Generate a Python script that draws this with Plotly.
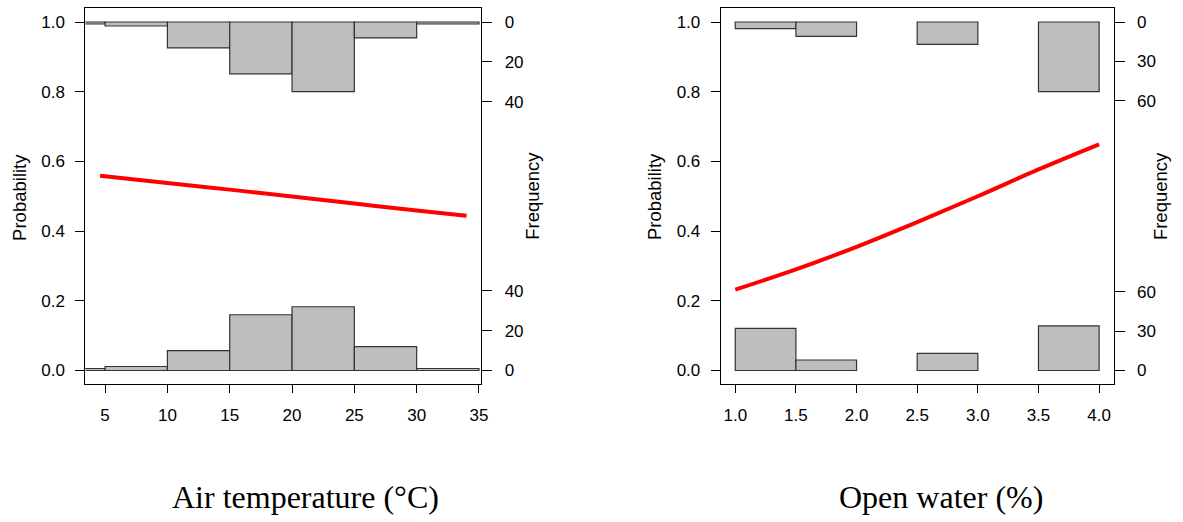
import plotly.graph_objects as go

# ---------------- data ----------------
# Panel 1: Air temperature
temp_bin_edges = [0, 5, 10, 15, 20, 25, 30, 35]
temp_top_counts = [1, 2, 13, 26, 35, 8, 1]        # presences (drawn from 1.0 downward)
temp_bottom_counts = [1, 2, 10, 28, 32, 12, 1]    # absences (drawn from 0.0 upward)
temp_curve_x = [4.6, 10, 15, 20, 25, 30, 34.0]
temp_curve_p = [0.559, 0.538, 0.519, 0.499, 0.479, 0.459, 0.444]
temp_xticks = [5, 10, 15, 20, 25, 30, 35]
temp_freq_ticks = [0, 20, 40]

# Panel 2: Open water
water_bin_edges = [1.0, 1.5, 2.0, 2.5, 3.0, 3.5, 4.0]
water_top_counts = [5, 11, 0, 17, 0, 53]
water_bottom_counts = [32, 8, 0, 13, 0, 34]
water_curve_x = [1.0, 1.5, 2.0, 2.5, 3.0, 3.5, 4.0]
water_curve_p = [0.232, 0.290, 0.355, 0.426, 0.500, 0.577, 0.649]
water_xticks = [1.0, 1.5, 2.0, 2.5, 3.0, 3.5, 4.0]
water_xticklabels = ["1.0", "1.5", "2.0", "2.5", "3.0", "3.5", "4.0"]
water_freq_ticks = [0, 30, 60]

prob_ticks = [0.0, 0.2, 0.4, 0.6, 0.8, 1.0]
prob_ticklabels = ["0.0", "0.2", "0.4", "0.6", "0.8", "1.0"]

# ---------------- layout constants ----------------
W, H = 1183, 522
BAR_FILL = "#BEBEBE"
BAR_LINE = "#333333"
TICK_FONT = dict(family="Liberation Sans, Arial, sans-serif", size=17, color="#000000")
LABEL_FONT = dict(family="Liberation Sans, Arial, sans-serif", size=18.5, color="#000000")
TITLE_FONT = dict(family="Liberation Serif, Times New Roman, serif", size=32, color="#000000")

# pixel positions of the plot box and of the probability 0 / 1 lines
BOX_TOP, BOX_BOTTOM = 7.5, 384.3
P1_Y, P0_Y = 22.0, 370.5
ppu = (P0_Y - P1_Y)  # pixels per probability unit
Y_RANGE = [-(BOX_BOTTOM - P0_Y) / ppu, 1 + (P1_Y - BOX_TOP) / ppu]


def px(x):
    return x / W


def py(y):
    return 1 - y / H


YDOM = [py(BOX_BOTTOM), py(BOX_TOP)]

fig = go.Figure()


def add_panel(edges, top_counts, bottom_counts, cx, cp, xa, ya, fa):
    scale = 0.2 / max(max(top_counts), max(bottom_counts))
    top_y, bot_y, tc, bc = [], [], [], []
    for i in range(len(edges) - 1):
        c = (edges[i] + edges[i + 1]) / 2
        w = edges[i + 1] - edges[i]
        if top_counts[i] > 0:
            top_y.append(-top_counts[i] * scale)
            tc.append((c, w))
        if bottom_counts[i] > 0:
            bot_y.append(bottom_counts[i] * scale)
            bc.append((c, w))
    fig.add_trace(go.Bar(
        x=[c for c, _ in tc], width=[w for _, w in tc], y=top_y, base=1.0,
        marker=dict(color=BAR_FILL, line=dict(color=BAR_LINE, width=1.2)),
        xaxis=xa, yaxis=fa, showlegend=False, hoverinfo="skip"))
    fig.add_trace(go.Bar(
        x=[c for c, _ in bc], width=[w for _, w in bc], y=bot_y, base=0.0,
        marker=dict(color=BAR_FILL, line=dict(color=BAR_LINE, width=1.2)),
        xaxis=xa, yaxis=fa, showlegend=False, hoverinfo="skip"))
    fig.add_trace(go.Scatter(
        x=cx, y=cp, mode="lines", line=dict(color="#FF0000", width=4, shape="spline"),
        xaxis=xa, yaxis=ya, showlegend=False, hoverinfo="skip"))
    return scale


s1 = add_panel(temp_bin_edges, temp_top_counts, temp_bottom_counts,
               temp_curve_x, temp_curve_p, "x", "y", "y3")
s2 = add_panel(water_bin_edges, water_top_counts, water_bottom_counts,
               water_curve_x, water_curve_p, "x2", "y2", "y4")


def freq_axis(ticks, scale):
    vals = [1.0 - t * scale for t in ticks] + [t * scale for t in ticks]
    texts = [str(t) for t in ticks] * 2
    return vals, texts


fv1, ft1 = freq_axis(temp_freq_ticks, s1)
fv2, ft2 = freq_axis(water_freq_ticks, s2)

common_x = dict(showgrid=False, zeroline=False, showline=True, mirror=True,
                linecolor="#000000", linewidth=1, ticks="outside", ticklen=8,
                tickwidth=1, tickcolor="#000000", tickfont=TICK_FONT,
                ticklabelstandoff=7)
common_y = dict(showgrid=False, zeroline=False, showline=True, mirror=True,
                linecolor="#000000", linewidth=1, ticks="outside", ticklen=9,
                tickwidth=1, tickcolor="#000000", tickfont=TICK_FONT,
                range=Y_RANGE, domain=YDOM, tickmode="array",
                tickvals=prob_ticks, ticktext=prob_ticklabels,
                ticklabelstandoff=7)
freq_common = dict(showgrid=False, zeroline=False, showline=False,
                   ticks="outside", ticklen=10, tickwidth=1, tickcolor="#000000",
                   tickfont=TICK_FONT, range=Y_RANGE, side="right",
                   tickmode="array", ticklabelstandoff=9)

fig.update_layout(
    width=W, height=H, autosize=False,
    margin=dict(l=0, r=0, t=0, b=0),
    paper_bgcolor="#FFFFFF", plot_bgcolor="#FFFFFF",
    barmode="overlay", bargap=0,
    xaxis=dict(common_x, domain=[px(85.9), px(484.1)], range=[3.42, 35.18],
               tickmode="array", tickvals=temp_xticks, anchor="y"),
    yaxis=dict(common_y, anchor="x"),
    yaxis3=dict(freq_common, overlaying="y", anchor="x",
                tickvals=fv1, ticktext=ft1),
    xaxis2=dict(common_x, domain=[px(725.0), px(1120.3)], range=[0.88, 4.12],
                tickmode="array", tickvals=water_xticks, ticktext=water_xticklabels,
                anchor="y2"),
    yaxis2=dict(common_y, anchor="x2"),
    yaxis4=dict(freq_common, overlaying="y2", anchor="x2",
                tickvals=fv2, ticktext=ft2),
)

annotations = [
    dict(text="Probability", x=px(19), y=py(197), textangle=-90, font=LABEL_FONT),
    dict(text="Frequency", x=px(535), y=py(196), textangle=-90, font=LABEL_FONT),
    dict(text="Probability", x=px(658), y=py(197), textangle=-90, font=LABEL_FONT),
    dict(text="Frequency", x=px(1167), y=py(196), textangle=-90, font=LABEL_FONT),
    dict(text="Air temperature (°C)", x=px(307.5), y=py(497), font=TITLE_FONT),
    dict(text="Open water (%)", x=px(946.5), y=py(497), font=TITLE_FONT),
]
for a in annotations:
    a.update(xref="paper", yref="paper", xanchor="center", yanchor="middle",
             showarrow=False)
fig.update_layout(annotations=annotations)

# remove the browser's default page margin so the figure sits at (0, 0)
fig.write_html("out.html",
               config={"displayModeBar": False, "staticPlot": True},
               post_script="document.body.style.margin='0';"
                           "document.body.style.overflow='hidden';")
